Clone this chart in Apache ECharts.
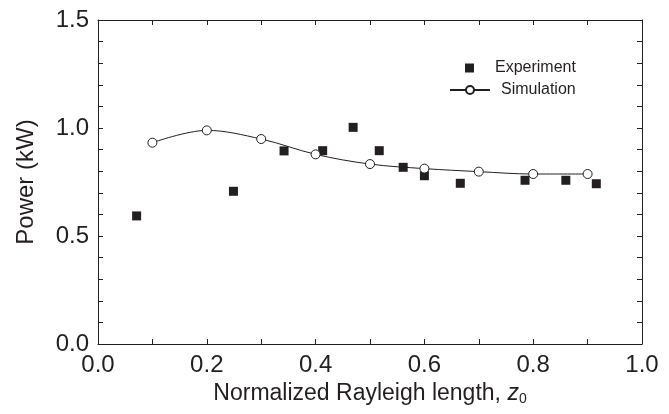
<!DOCTYPE html>
<html>
<head>
<meta charset="utf-8">
<script src="https://cdn.jsdelivr.net/npm/echarts@6/dist/echarts.min.js"></script>
<style>html,body{margin:0;padding:0;background:#fff}#c{width:669px;height:414px}</style>
</head>
<body>
<div id="c"></div>
<script>
var expX = [0.071, 0.249, 0.342, 0.413, 0.469, 0.517, 0.561, 0.600, 0.666, 0.785, 0.860, 0.916];
var expY = [0.593, 0.707, 0.894, 0.895, 1.003, 0.895, 0.818, 0.779, 0.744, 0.758, 0.758, 0.742];
var simX = [0.1, 0.2, 0.3, 0.4, 0.5, 0.6, 0.7, 0.8, 0.9];
var simY = [0.932, 0.989, 0.949, 0.878, 0.833, 0.812, 0.798, 0.787, 0.787];

var FONT = 'Liberation Sans';
var C = '#231f20';
function zip(a, b) { return a.map(function (v, i) { return [v, b[i]]; }); }

var chart = echarts.init(document.getElementById('c'));
function ax(extra, split) {
  return Object.assign({
    axisLine: { show: true, onZero: false, lineStyle: { color: C, width: 1 } },
    axisTick: { show: true, inside: true, length: 5, lineStyle: { color: C, width: 1 } },
    minorTick: { show: true, splitNumber: split, length: 5, lineStyle: { color: C, width: 1 } },
    splitLine: { show: false },
    minorSplitLine: { show: false }
  }, extra);
}
chart.setOption({
  animation: false,
  backgroundColor: '#fff',
  grid: { left: 98, right: 27, top: 20, bottom: 70, show: false },
  legend: [
    { data: ['Experiment'], left: 460, top: 55, icon: 'rect', itemWidth: 9, itemHeight: 9,
      textStyle: { fontFamily: FONT, fontSize: 16, color: C, padding: [0, 0, 0, 16] } },
    { data: ['Simulation'], left: 444, top: 77, itemWidth: 40, itemHeight: 10,
      textStyle: { fontFamily: FONT, fontSize: 16, color: C, padding: [0, 0, 0, 6] } }
  ],
  xAxis: [
    ax({
      type: 'value', min: 0, max: 1, interval: 0.2, position: 'bottom',
      axisLabel: { fontFamily: FONT, fontSize: 24, color: C, margin: 9,
        formatter: function (v) { return v.toFixed(1); } },
      name: 'Normalized Rayleigh length, {i|z}{s|0}',
      nameLocation: 'middle', nameGap: 36,
      nameTextStyle: { fontFamily: FONT, fontSize: 23, color: C,
        rich: { i: { fontFamily: FONT, fontSize: 23, fontStyle: 'italic', color: C },
                s: { fontFamily: FONT, fontSize: 14, color: C, padding: [12, 0, 0, 0] } } }
    }, 2),
    ax({
      type: 'value', min: 0, max: 1, interval: 0.2, position: 'top',
      axisLabel: { show: false }
    }, 2)
  ],
  yAxis: [
    ax({
      type: 'value', min: 0, max: 1.5, interval: 0.5, position: 'left',
      axisLabel: { fontFamily: FONT, fontSize: 24, color: C, margin: 9,
        formatter: function (v) { return v.toFixed(1); } },
      name: 'Power (kW)', nameLocation: 'middle', nameGap: 60,
      nameTextStyle: { fontFamily: FONT, fontSize: 24, color: C }
    }, 5),
    ax({
      type: 'value', min: 0, max: 1.5, interval: 0.5, position: 'right',
      axisLabel: { show: false }
    }, 5)
  ],
  series: [
    { name: 'Experiment', type: 'scatter', data: zip(expX, expY), symbol: 'rect', symbolSize: 9,
      itemStyle: { color: C, opacity: 1 }, z: 3 },
    { name: 'Simulation', type: 'line', data: zip(simX, simY), smooth: 0.35,
      symbol: 'circle', symbolSize: 9, showAllSymbol: true,
      lineStyle: { color: C, width: 1 },
      itemStyle: { color: '#fff', borderColor: C, borderWidth: 1, opacity: 1 }, z: 4 }
  ]
});
</script>
</body>
</html>
